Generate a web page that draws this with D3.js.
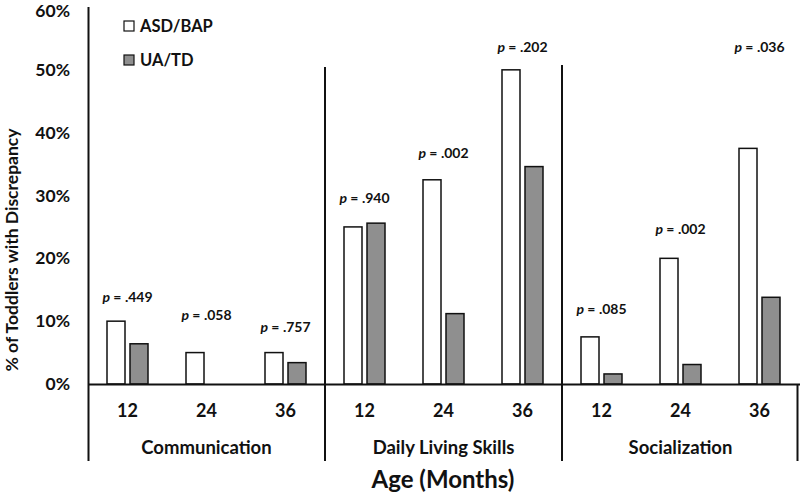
<!DOCTYPE html>
<html><head><meta charset="utf-8">
<script src="https://cdn.jsdelivr.net/npm/d3@7"></script>
<style>body{margin:0;background:#fff}svg{display:block}text{font-family:Lato,"Open Sans",sans-serif;font-weight:bold;fill:#111}</style>
</head><body><svg id="c" width="800" height="492"></svg>
<script>
const domains = ["Communication", "Daily Living Skills", "Socialization"];
const ages = ["12", "24", "36"];
const seriesNames = ["ASD/BAP", "UA/TD"];
const asdValues = [10, 5, 5, 25, 32.5, 50, 7.5, 20, 37.5];
const uaValues = [6.4, 0, 3.4, 25.6, 11.2, 34.6, 1.6, 3.1, 13.8];
const pValues = [".449", ".058", ".757", ".940", ".002", ".202", ".085", ".002", ".036"];
const pLabelLevels = [13.9, 11, 9.1, 29.6, 36.8, 53.6, 12, 24.7, 53.6];
const yTicks = [0, 10, 20, 30, 40, 50, 60];

const svg = d3.select("#c");
const ids = [];
domains.forEach((d, i) => ages.forEach((a, j) => ids.push(i * 3 + j)));

const x = d3.scaleBand().domain(ids).range([88, 799]).paddingInner(0);
const y = d3.scaleLinear().domain([0, 60]).range([384, 7]);
const bw = 18, gap = 5;

// y axis labels
svg.append("g").selectAll("text").data(yTicks).join("text")
  .attr("x", 70).attr("y", d => Math.max(y(d), 11)).attr("dy", "0.35em")
  .attr("text-anchor", "end").style("font-size", "17.5px")
  .text(d => d + "%");

// bars
const g = svg.append("g");
g.selectAll("rect.asd").data(ids).join("rect")
  .attr("x", d => x(d) + x.bandwidth() / 2 - gap / 2 - bw)
  .attr("width", bw)
  .attr("y", d => y(asdValues[d]))
  .attr("height", d => y(0) - y(asdValues[d]))
  .attr("fill", "#fff").attr("stroke", "#111").attr("stroke-width", 1.5);
g.selectAll("rect.ua").data(ids.filter(d => uaValues[d] > 0)).join("rect")
  .attr("x", d => x(d) + x.bandwidth() / 2 + gap / 2)
  .attr("width", bw)
  .attr("y", d => y(uaValues[d]))
  .attr("height", d => y(0) - y(uaValues[d]))
  .attr("fill", "#8f8f8f").attr("stroke", "#111").attr("stroke-width", 1.5);

// p labels
const pl = svg.append("g").selectAll("text").data(ids).join("text")
  .attr("x", d => x(d) + x.bandwidth() / 2)
  .attr("y", d => y(pLabelLevels[d])).attr("dy", "0.35em")
  .attr("text-anchor", "middle").style("font-size", "14px");
pl.append("tspan").style("font-style", "italic").text("p");
pl.append("tspan").text(d => " = " + pValues[d]);

// axes lines
const line = (x1, y1, x2, y2, w) => svg.append("line").attr("x1", x1).attr("y1", y1).attr("x2", x2).attr("y2", y2)
  .attr("stroke", "#111").attr("stroke-width", w || 2);
line(88.5, 7, 88.5, 461);
line(88, 384.5, 800, 384.5);
line(x(3), 67, x(3), 461);
line(x(6), 65, x(6), 461);
line(797.5, 384, 797.5, 461);

// age ticks labels
svg.append("g").selectAll("text").data(ids).join("text")
  .attr("x", d => x(d) + x.bandwidth() / 2).attr("y", 411).attr("dy", "0.35em")
  .attr("text-anchor", "middle").style("font-size", "18px")
  .text(d => ages[d % 3]);
// domain labels
svg.append("g").selectAll("text").data(domains).join("text")
  .attr("x", (d, i) => (x(i * 3) + x(i * 3 + 2) + x.bandwidth()) / 2).attr("y", 448).attr("dy", "0.35em")
  .attr("text-anchor", "middle").style("font-size", "18.5px")
  .text(d => d);
svg.append("text").attr("x", 443).attr("y", 480).attr("dy", "0.35em")
  .attr("text-anchor", "middle").style("font-size", "24px").text("Age (Months)");
svg.append("text").attr("transform", "translate(12,250) rotate(-90)").attr("dy", "0.35em")
  .attr("text-anchor", "middle").style("font-size", "17.5px").text("% of Toddlers with Discrepancy");

// legend
const lg = svg.append("g").selectAll("g").data(seriesNames).join("g")
  .attr("transform", (d, i) => `translate(124,${21 + i * 34})`);
lg.append("rect").attr("width", 10).attr("height", 10)
  .attr("fill", (d, i) => i ? "#8f8f8f" : "#fff").attr("stroke", "#111").attr("stroke-width", 1.2);
lg.append("text").attr("x", 16).attr("y", 5).attr("dy", "0.35em").style("font-size", "16.5px").text(d => d);
</script></body></html>
